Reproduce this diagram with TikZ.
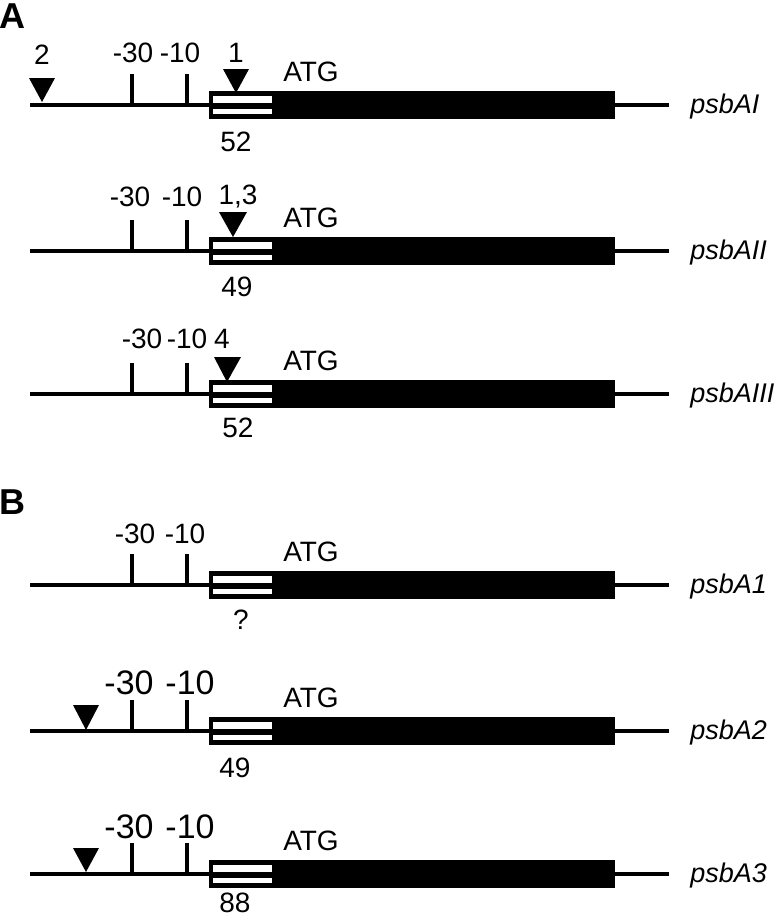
\documentclass[tikz,border=0pt]{standalone}
\usepackage{fontspec}
\setmainfont{Liberation Sans}

\begin{document}
\begin{tikzpicture}[x=0.5pt,y=-0.5pt,
    dna/.style={line width=1.75pt},
    promoter/.style={line width=2pt},
    tss/.style={fill=black},
    lab/.style={font=\fontsize{14}{16}\selectfont,inner sep=0pt},
    biglab/.style={font=\fontsize{17}{19}\selectfont,inner sep=0pt},
    gene/.style={font=\fontsize{13.5}{16}\selectfont\itshape,anchor=west,inner sep=0pt},
    panel/.style={font=\fontsize{18}{20}\selectfont\bfseries,inner sep=0pt},
    ]
    \useasboundingbox (0,0) rectangle (774,918);
    % panel letters
    \node[panel] (pA) at (12,16) {A};
    \node[panel] (pB) at (12,502) {B};
    % the six genes: line, leader box, coding region, -30 and -10 boxes
    \foreach \y/\name in {105/psbAI,251/psbAII,394/psbAIII,585/psbA1,731/psbA2,874/psbA3} {
        \draw[dna] (30,\y) -- (669,\y);
        \fill (209,\y-14) rectangle (615,\y+14);
        \fill[white] (213,\y-9) rectangle (272,\y-2);
        \fill[white] (213,\y+4) rectangle (272,\y+9);
        \draw[promoter] (132,\y) -- (132,\y-31);
        \draw[promoter] (187,\y) -- (187,\y-31);
        \node[lab] (atg-\name) at (311,\y-33) {ATG};
        \node[gene] (\name) at (690,\y+2) {\name};
    }
    % psbAI
    \fill[tss] (29,78) -- (55,78) -- (42,102) -- cycle;
    \fill[tss] (223,69) -- (249,69) -- (236,93) -- cycle;
    \node[lab] (s2) at (42,55) {2};
    \node[lab] at (133,53) {-30};
    \node[lab] at (180,53) {-10};
    \node[lab] (s1) at (236,53) {1};
    \node[lab] at (236,142) {52};
    % psbAII
    \fill[tss] (219,212) -- (247,212) -- (233,237) -- cycle;
    \node[lab] at (130,197) {-30};
    \node[lab] at (182,197) {-10};
    \node[lab] (s13) at (238,197) {1,3};
    \node[lab] at (237,287) {49};
    % psbAIII
    \fill[tss] (214,357) -- (241,357) -- (227,382) -- cycle;
    \node[lab] at (142,339) {-30};
    \node[lab] at (187,339) {-10};
    \node[lab] (s4) at (222,339) {4};
    \node[lab] at (238,428) {52};
    % psbA1
    \node[lab] at (135,534) {-30};
    \node[lab] at (185,534) {-10};
    \node[lab] at (241,620) {?};
    % psbA2
    \fill[tss] (73,705) -- (99,705) -- (86,730) -- cycle;
    \node[biglab] at (129,683) {-30};
    \node[biglab] at (190,683) {-10};
    \node[lab] at (235,768) {49};
    % psbA3
    \fill[tss] (73,848) -- (99,848) -- (86,872) -- cycle;
    \node[biglab] at (129,827) {-30};
    \node[biglab] at (190,827) {-10};
    \node[lab] at (235,903) {88};
\end{tikzpicture}
\end{document}
